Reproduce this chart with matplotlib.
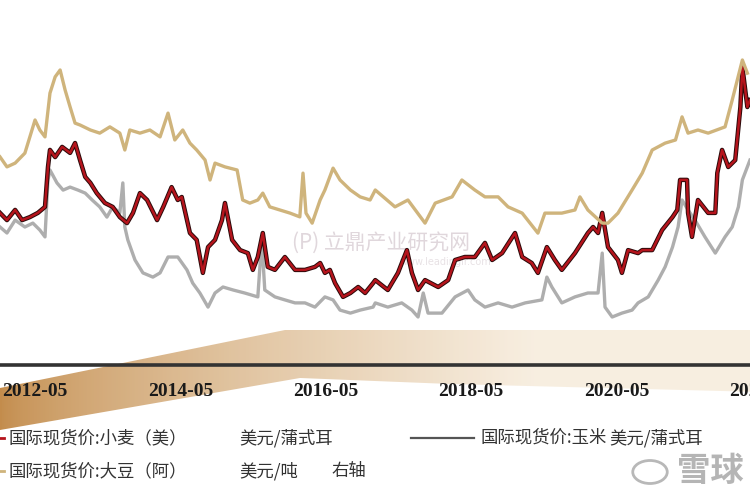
import numpy as np
import pandas as pd
import matplotlib
matplotlib.use('Agg')
import matplotlib.pyplot as plt
import matplotlib.dates as mdates
from matplotlib.patches import Polygon, Circle
from matplotlib.lines import Line2D

plt.rcParams['font.family'] = ['Noto Sans CJK SC', 'DejaVu Sans']

# 国际现货价:小麦(美) 美元/蒲式耳 (左轴)
wheat_dates = ['2011-11-07', '2011-12-12', '2012-01-22', '2012-02-26', '2012-04-05', '2012-05-15',
               '2012-06-20', '2012-07-05', '2012-07-15', '2012-08-10', '2012-09-14', '2012-10-24',
               '2012-11-18', '2012-12-13', '2013-01-08', '2013-02-03', '2013-03-07', '2013-04-17',
               '2013-05-26', '2013-07-01', '2013-08-06', '2013-09-05', '2013-10-10', '2013-11-15',
               '2014-01-04', '2014-02-04', '2014-03-18', '2014-04-18', '2014-05-08', '2014-06-18',
               '2014-07-22', '2014-08-22', '2014-09-17', '2014-10-22', '2014-11-26', '2014-12-11',
               '2015-01-16', '2015-02-25', '2015-04-05', '2015-04-30', '2015-05-25', '2015-06-19',
               '2015-07-14', '2015-08-19', '2015-10-08', '2015-11-28', '2016-01-17', '2016-03-07',
               '2016-04-02', '2016-04-26', '2016-05-21', '2016-06-16', '2016-07-26', '2016-09-01',
               '2016-10-10', '2016-11-14', '2016-12-24', '2017-01-04', '2017-03-08', '2017-04-28',
               '2017-06-12', '2017-07-07', '2017-08-07', '2017-09-11', '2017-11-16', '2018-01-05',
               '2018-02-09', '2018-03-30', '2018-05-19', '2018-07-09', '2018-08-14', '2018-10-03',
               '2018-12-07', '2019-01-12', '2019-03-01', '2019-04-01', '2019-05-16', '2019-06-25',
               '2019-07-30', '2019-10-04', '2019-12-08', '2020-01-03', '2020-01-28', '2020-02-18',
               '2020-03-18', '2020-05-07', '2020-05-27', '2020-06-27', '2020-08-16', '2020-09-06',
               '2020-10-26', '2020-12-15', '2021-02-05', '2021-03-01', '2021-03-15', '2021-04-19',
               '2021-04-24', '2021-05-14', '2021-06-13', '2021-08-03', '2021-09-08', '2021-09-18',
               '2021-10-12', '2021-11-12', '2021-12-17', '2022-01-12', '2022-01-22', '2022-02-16',
               '2022-03-01']
wheat = [7.07, 6.83, 7.17, 6.83, 6.93, 7.07,
         7.27, 8.6, 9.17, 8.93, 9.27, 9.07,
         9.4, 8.83, 8.27, 8.07, 7.73, 7.4,
         7.27, 6.93, 6.73, 7.07, 7.73, 7.5,
         6.83, 7.27, 7.93, 7.5, 7.6, 6.4,
         6.17, 5.07, 5.93, 6.17, 6.83, 7.4,
         6.17, 5.83, 5.73, 5.17, 5.6, 6.4,
         5.27, 5.17, 5.6, 5.17, 5.17, 5.27,
         5.4, 5.07, 5.17, 4.73, 4.27, 4.4,
         4.6, 4.4, 4.73, 4.83, 4.5, 5.07,
         5.83, 5.07, 4.5, 4.83, 4.6, 4.83,
         5.5, 5.6, 5.6, 6.07, 5.5, 5.73,
         6.4, 5.6, 5.4, 5.07, 5.93, 5.5,
         5.17, 5.73, 6.4, 6.6, 6.4, 7.07,
         5.93, 5.5, 5.07, 5.83, 5.73, 5.83,
         5.83, 6.5, 6.93, 7.17, 8.17, 8.17,
         7.07, 6.27, 7.5, 7.07, 7.07, 8.4,
         9.17, 8.6, 8.83, 10.6, 11.93, 10.6,
         10.83]

# 国际现货价:玉米 美元/蒲式耳 (左轴)
corn_dates = ['2011-11-07', '2011-12-12', '2012-01-22', '2012-03-11', '2012-04-20', '2012-05-25',
              '2012-06-20', '2012-07-05', '2012-07-15', '2012-08-19', '2012-09-19', '2012-10-24',
              '2012-12-03', '2013-01-08', '2013-02-12', '2013-03-22', '2013-04-27', '2013-05-26',
              '2013-07-01', '2013-07-16', '2013-07-26', '2013-08-10', '2013-09-15', '2013-10-25',
              '2013-12-14', '2014-01-19', '2014-02-28', '2014-04-18', '2014-06-03', '2014-07-02',
              '2014-08-07', '2014-09-17', '2014-10-22', '2014-12-01', '2015-01-21', '2015-03-20',
              '2015-05-25', '2015-06-14', '2015-06-29', '2015-08-19', '2015-10-08', '2015-11-28',
              '2016-01-17', '2016-03-07', '2016-04-26', '2016-06-06', '2016-07-11', '2016-09-01',
              '2016-10-20', '2016-12-24', '2017-01-04', '2017-03-08', '2017-05-17', '2017-07-07',
              '2017-08-07', '2017-09-02', '2017-09-26', '2017-12-05', '2018-02-09', '2018-04-15',
              '2018-05-19', '2018-07-09', '2018-09-13', '2018-11-22', '2019-01-27', '2019-04-21',
              '2019-05-16', '2019-06-10', '2019-07-30', '2019-10-04', '2019-12-08', '2020-01-28',
              '2020-02-18', '2020-03-03', '2020-04-08', '2020-05-27', '2020-07-17', '2020-08-16',
              '2020-10-06', '2020-11-25', '2020-12-30', '2021-02-05', '2021-03-05', '2021-03-25',
              '2021-04-24', '2021-05-29', '2021-07-18', '2021-09-08', '2021-10-27', '2021-12-02',
              '2022-01-02', '2022-01-22', '2022-03-01']
corn = [6.6, 6.4, 6.83, 6.6, 6.73, 6.5,
        6.27, 8.17, 8.5, 8.07, 7.83, 7.93,
        7.83, 7.73, 7.5, 7.27, 6.93, 7.27,
        7.07, 8.07, 6.6, 6.17, 5.5, 5.07,
        4.93, 5.07, 5.6, 5.6, 5.17, 4.73,
        4.4, 3.93, 4.4, 4.6, 4.5, 4.4,
        4.27, 6.17, 4.5, 4.27, 4.17, 4.07,
        4.07, 3.93, 4.27, 4.17, 3.83, 3.73,
        3.83, 3.93, 4.07, 3.93, 4.07, 3.83,
        3.6, 4.4, 3.73, 3.73, 4.27, 4.5,
        4.17, 3.93, 4.07, 3.93, 4.07, 4.17,
        4.93, 4.6, 4.07, 4.27, 4.4, 4.4,
        5.73, 3.93, 3.6, 3.73, 3.83, 4.07,
        4.27, 4.83, 5.27, 5.93, 6.6, 7.5,
        7.17, 6.83, 6.27, 5.73, 6.27, 6.6,
        7.27, 8.17, 8.83]

# 国际现货价:大豆(阿) 美元/吨 (右轴)
soy_dates = ['2011-11-07', '2011-12-12', '2012-01-22', '2012-03-11', '2012-05-01', '2012-05-25',
             '2012-06-20', '2012-07-15', '2012-08-10', '2012-09-04', '2012-09-29', '2012-10-24',
             '2012-11-18', '2012-12-13', '2013-02-03', '2013-03-22', '2013-05-12', '2013-07-01',
             '2013-07-26', '2013-08-20', '2013-10-10', '2013-11-29', '2014-01-19', '2014-02-28',
             '2014-04-03', '2014-05-13', '2014-06-18', '2014-07-22', '2014-09-02', '2014-09-27',
             '2014-10-22', '2014-12-11', '2015-02-10', '2015-03-10', '2015-04-15', '2015-05-25',
             '2015-06-19', '2015-07-24', '2015-09-13', '2015-11-03', '2015-12-22', '2016-01-07',
             '2016-01-22', '2016-02-22', '2016-04-02', '2016-04-26', '2016-06-06', '2016-07-11',
             '2016-09-01', '2016-10-20', '2016-12-09', '2017-01-04', '2017-04-13', '2017-06-17',
             '2017-09-11', '2017-11-01', '2018-01-25', '2018-03-15', '2018-05-19', '2018-07-09',
             '2018-09-13', '2018-11-02', '2019-01-12', '2019-04-01', '2019-05-06', '2019-07-30',
             '2019-10-04', '2019-10-29', '2019-12-08', '2020-02-18', '2020-03-18', '2020-05-07',
             '2020-07-17', '2020-09-06', '2020-10-26', '2020-12-30', '2021-02-20', '2021-03-25',
             '2021-04-24', '2021-06-13', '2021-08-03', '2021-10-27', '2021-12-02', '2022-01-22',
             '2022-02-16']
soy = [483, 467, 473, 489, 542, 526,
       515, 585, 611, 622, 590, 563,
       537, 534, 526, 521, 531, 521,
       494, 526, 521, 526, 515, 553,
       510, 526, 505, 494, 478, 446,
       473, 467, 462, 414, 409, 414,
       425, 403, 398, 393, 387, 457,
       393, 377, 414, 430, 465, 446,
       430, 419, 414, 430, 403, 414,
       377, 409, 419, 446, 430, 419,
       419, 403, 393, 361, 393, 393,
       398, 419, 398, 377, 377, 393,
       430, 457, 494, 505, 510, 547,
       521, 526, 521, 531, 574, 638,
       617]

tick_labels_fmt = '%Y-%m'
legend_rows = [['国际现货价:小麦（美）', '美元/蒲式耳'],
               ['国际现货价:大豆（阿）', '美元/吨', '右轴']]
legend_right = ['国际现货价:玉米', '美元/蒲式耳']

fig = plt.figure(figsize=(7.5, 5), dpi=100)
fig.patch.set_facecolor('white')

# background swoosh (figure pixel coordinates)
bg = fig.add_axes([0, 0, 1, 1], zorder=0)
bg.set_xlim(0, 750)
bg.set_ylim(500, 0)
bg.axis('off')
gx = np.clip(np.linspace(0, 1, 400) * 1.4, 0, 1) ** 0.7
dark = np.array([0.74, 0.50, 0.22])
light = np.array([0.97, 0.93, 0.87])
grad = dark[None, :] * (1 - gx[:, None]) + light[None, :] * gx[:, None]
grad = np.repeat(grad[None, :, :], 20, axis=0)
im = bg.imshow(grad, extent=(0, 750, 440, 320), aspect='auto', alpha=0.9)
swoosh = Polygon([(0, 388), (285, 330), (760, 330), (760, 392), (450, 384),
                  (300, 378), (0, 430)], closed=True, transform=bg.transData,
                 facecolor='none', edgecolor='none')
bg.add_patch(swoosh)
im.set_clip_path(swoosh)

# watermarks
fig.text(292 / 750, 1 - 243 / 500, '(P) 立鼎产业研究网', fontsize=15, color='#e0d7dc',
         va='center', zorder=0.5)
fig.text(400 / 750, 1 - 262 / 500, 'www.leadingir.com', fontsize=7, color='#e8e2e5',
         va='center', zorder=0.5, family='DejaVu Sans')

ax = fig.add_axes([0, 0.27, 1.1, 0.73], zorder=1)
ax.patch.set_alpha(0)
ax2 = ax.twinx()
ax2.patch.set_alpha(0)

wd = pd.to_datetime(wheat_dates)
cd = pd.to_datetime(corn_dates)
sd = pd.to_datetime(soy_dates)

ax.plot(cd, corn, color='#aeaeae', lw=2.4, zorder=2)
ax.plot(wd, wheat, color='#2a0a0a', lw=3.2, zorder=3)
ax.plot(wd, wheat, color='#b5141c', lw=1.8, zorder=4)
ax2.plot(sd, soy, color='#cfb47c', lw=2.4)

ax.set_xlim(pd.Timestamp('2011-11-07'), pd.Timestamp('2023-03-13'))
ax.set_ylim(2, 2 + 365 / 30)
ax2.set_ylim(150, 150 + 365 * 1.6)

ax.xaxis.set_major_locator(mdates.YearLocator(2, month=5, day=1))
ax.xaxis.set_major_formatter(mdates.DateFormatter(tick_labels_fmt))
ax.tick_params(axis='x', length=0, pad=13, labelsize=14, colors='#1a1a1a')
for lab in ax.get_xticklabels():
    lab.set_family('Liberation Serif')
    lab.set_fontweight('bold')
ax.set_yticks([])
ax2.set_yticks([])
for a in (ax, ax2):
    for s in ('top', 'left', 'right'):
        a.spines[s].set_visible(False)
ax2.spines['bottom'].set_visible(False)
ax.spines['bottom'].set_color('#333333')
ax.spines['bottom'].set_linewidth(2.6)

# legend
txt_kw = dict(fontsize=12.5, color='#333333', va='center')
fig.add_artist(Line2D([-40 / 750, 4 / 750], [1 - 438 / 500] * 2, color='#b5141c', lw=2))
fig.add_artist(Line2D([-40 / 750, 4 / 750], [1 - 471 / 500] * 2, color='#cfb47c', lw=2))
fig.text(8 / 750, 1 - 438 / 500, legend_rows[0][0], **txt_kw)
fig.text(239 / 750, 1 - 438 / 500, legend_rows[0][1], **txt_kw)
fig.text(8 / 750, 1 - 471 / 500, legend_rows[1][0], **txt_kw)
fig.text(239 / 750, 1 - 471 / 500, legend_rows[1][1], **txt_kw)
fig.text(331 / 750, 1 - 471 / 500, legend_rows[1][2], **txt_kw)
fig.add_artist(Line2D([411 / 750, 474 / 750], [1 - 438 / 500] * 2, color='#555555', lw=1.6))
fig.text(480 / 750, 1 - 438 / 500, legend_right[0], **txt_kw)
fig.text(609 / 750, 1 - 438 / 500, legend_right[1], **txt_kw)

# 雪球 logo
fig.add_artist(Circle((650 / 750, 1 - 472 / 500), 0.023, transform=fig.transFigure,
                      facecolor='none', edgecolor='#b8b8b8', lw=2))
fig.text(677 / 750, 1 - 472 / 500, '雪球', fontsize=24, color='#b5b5b5', va='center',
         fontweight='bold')

fig.savefig('out.png', dpi=100)
